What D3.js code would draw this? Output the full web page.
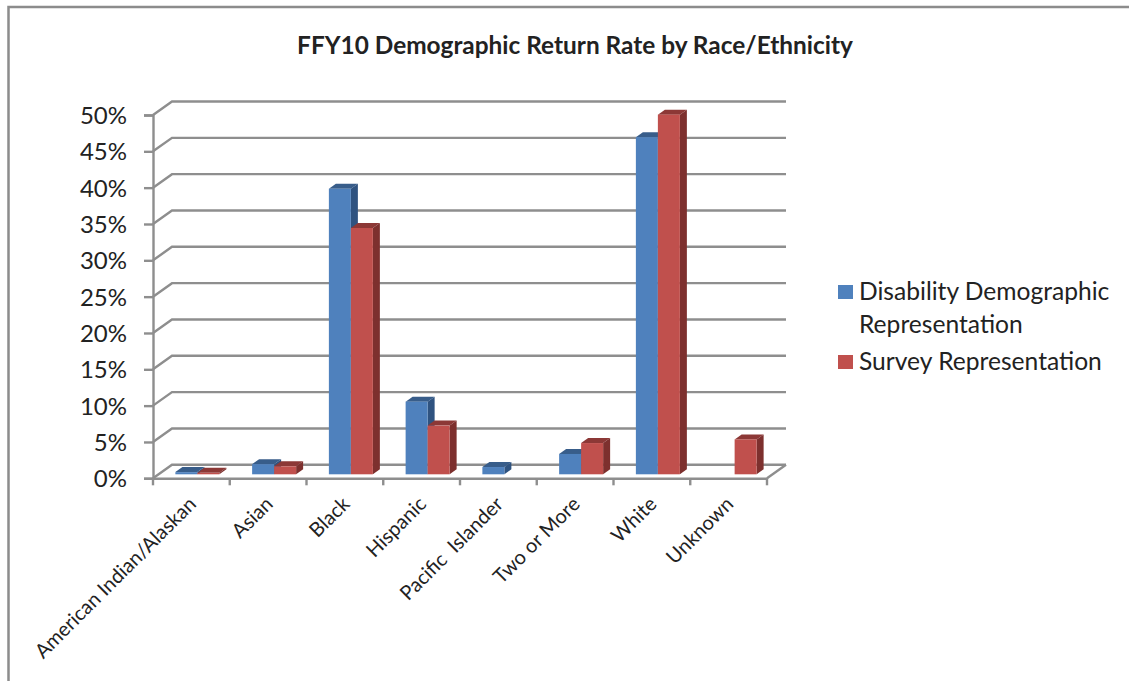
<!DOCTYPE html>
<html>
<head>
<meta charset="utf-8">
<script src="https://cdn.jsdelivr.net/npm/d3@7"></script>
<style>
html, body { margin: 0; padding: 0; background: #fff; }
svg { display: block; }
text { font-family: Lato, "Open Sans", sans-serif; fill: #222; white-space: pre; }
</style>
</head>
<body>
<svg id="canvas" width="1129" height="681"></svg>
<script>
const categories = ['American Indian/Alaskan', 'Asian', 'Black', 'Hispanic', 'Pacific  Islander', 'Two or More', 'White', 'Unknown'];
const disability = [0.3, 1.4, 39.3, 10.0, 1.0, 2.8, 46.4, null];
const survey = [0.2, 1.1, 33.9, 6.7, null, 4.3, 49.5, 4.8];
const yTicks = [0, 5, 10, 15, 20, 25, 30, 35, 40, 45, 50];
const seriesNames = ['Disability Demographic', 'Survey Representation'];
const seriesColors = ['#4f81bd', '#c0504d'];
const topColors = ['#385d8a', '#8c3836'];
const sideColors = ['#2f5380', '#7d302e'];

const canvas = d3.select('#canvas');

const frontLeft = 153, frontRight = 767, frontBottom = 478.3, frontTop = 115;
const wallDx = 19, wallDy = -13.5; //how far the back wall sits from the front axes
const barDx = 6, barDy = -4;       //bars stand in the middle of the floor
const depthDx = 7, depthDy = -5;
const barWidth = 22;

const x = d3.scaleBand().domain(categories).range([frontLeft, frontRight]);
const y = d3.scaleLinear().domain([0, 50]).range([frontBottom, frontTop]);

//frame of the picture
canvas.append('path')
    .attr('d', 'M8.5,681V7H1129')
    .attr('fill', 'none')
    .attr('stroke', '#8c8c8c')
    .attr('stroke-width', 2.5);

canvas.append('text')
    .attr('x', 575)
    .attr('y', 54)
    .attr('text-anchor', 'middle')
    .attr('font-size', 24.4)
    .attr('font-weight', 700)
    .text('FFY10 Demographic Return Rate by Race/Ethnicity');

//gridlines on the wall and the slanted bit on the side wall
const gridColor = '#8e8e8e';
const grid = canvas.append('g')
    .attr('fill', 'none')
    .attr('stroke', gridColor)
    .attr('stroke-width', 2.4);

grid.selectAll('path')
    .data(yTicks)
    .enter()
    .append('path')
    .attr('d', d => `M${frontLeft},${y(d)}L${frontLeft + wallDx},${y(d) + wallDy}H${frontRight + wallDx}`);

//right edge of the floor
grid.append('path')
    .attr('d', `M${frontRight},${y(0)}L${frontRight + wallDx},${y(0) + wallDy}`);

//axes
const yAxis = canvas.append('g')
    .attr('transform', `translate(${frontLeft},0)`)
    .call(d3.axisLeft(y).tickValues(yTicks).tickSize(9).tickPadding(16).tickFormat(d => d + '%'));

const xAxis = canvas.append('g')
    .attr('transform', `translate(0,${frontBottom})`)
    .call(d3.axisBottom(x).tickValues([]).tickSizeOuter(0));

xAxis.selectAll('.bar-tick')
    .data(d3.range(categories.length + 1))
    .enter()
    .append('line')
    .attr('x1', i => frontLeft + i * x.step())
    .attr('x2', i => frontLeft + i * x.step())
    .attr('y1', 0)
    .attr('y2', 7);

canvas.selectAll('.domain, .tick line, g line')
    .attr('stroke', gridColor)
    .attr('stroke-width', 2.4);

yAxis.selectAll('text')
    .attr('font-size', 24)
    .attr('fill', '#222')
    .attr('dx', -1)
    .attr('dy', '0.36em');

//category labels
canvas.selectAll('.cat')
    .data(categories)
    .enter()
    .append('text')
    .attr('class', 'cat')
    .attr('text-anchor', 'end')
    .attr('font-size', 20)
    .attr('transform', d => `translate(${x(d) + x.bandwidth() / 2 + 6},${frontBottom + 27}) rotate(-45)`)
    .text(d => d);

//3d columns, each one is a front, a top and a side
function drawSeries(values, s) {
    const bars = values
        .map((v, i) => ({ v: v, cat: categories[i] }))
        .filter(d => d.v !== null);
    const left = d => x(d.cat) + (x.bandwidth() - 2 * barWidth) / 2 + barDx + s * barWidth;
    const base = y(0) + barDy;
    const top = d => base - (y(0) - y(d.v));

    const g = canvas.append('g');
    g.selectAll('.top')
        .data(bars)
        .enter()
        .append('path')
        .attr('fill', topColors[s])
        .attr('d', d => `M${left(d)},${top(d)}l${depthDx},${depthDy}h${barWidth}l${-depthDx},${-depthDy}z`);
    g.selectAll('.side')
        .data(bars)
        .enter()
        .append('path')
        .attr('fill', sideColors[s])
        .attr('d', d => `M${left(d) + barWidth},${top(d)}l${depthDx},${depthDy}V${base + depthDy}l${-depthDx},${-depthDy}z`);
    g.selectAll('.front')
        .data(bars)
        .enter()
        .append('rect')
        .attr('fill', seriesColors[s])
        .attr('x', left)
        .attr('y', top)
        .attr('width', barWidth)
        .attr('height', d => base - top(d));
}

//red after blue so it covers the blue side, same as the picture
drawSeries(disability, 0);
drawSeries(survey, 1);

//legend
const legend = canvas.append('g');
legend.append('rect').attr('x', 838).attr('y', 285).attr('width', 15).attr('height', 14).attr('fill', seriesColors[0]);
legend.append('text').attr('x', 859).attr('y', 300).attr('font-size', 24.6).text(seriesNames[0]);
legend.append('text').attr('x', 859).attr('y', 333).attr('font-size', 24.6).text('Representation');
legend.append('rect').attr('x', 838).attr('y', 355).attr('width', 15).attr('height', 14).attr('fill', seriesColors[1]);
legend.append('text').attr('x', 859).attr('y', 370).attr('font-size', 24.6).text(seriesNames[1]);
</script>
</body>
</html>
